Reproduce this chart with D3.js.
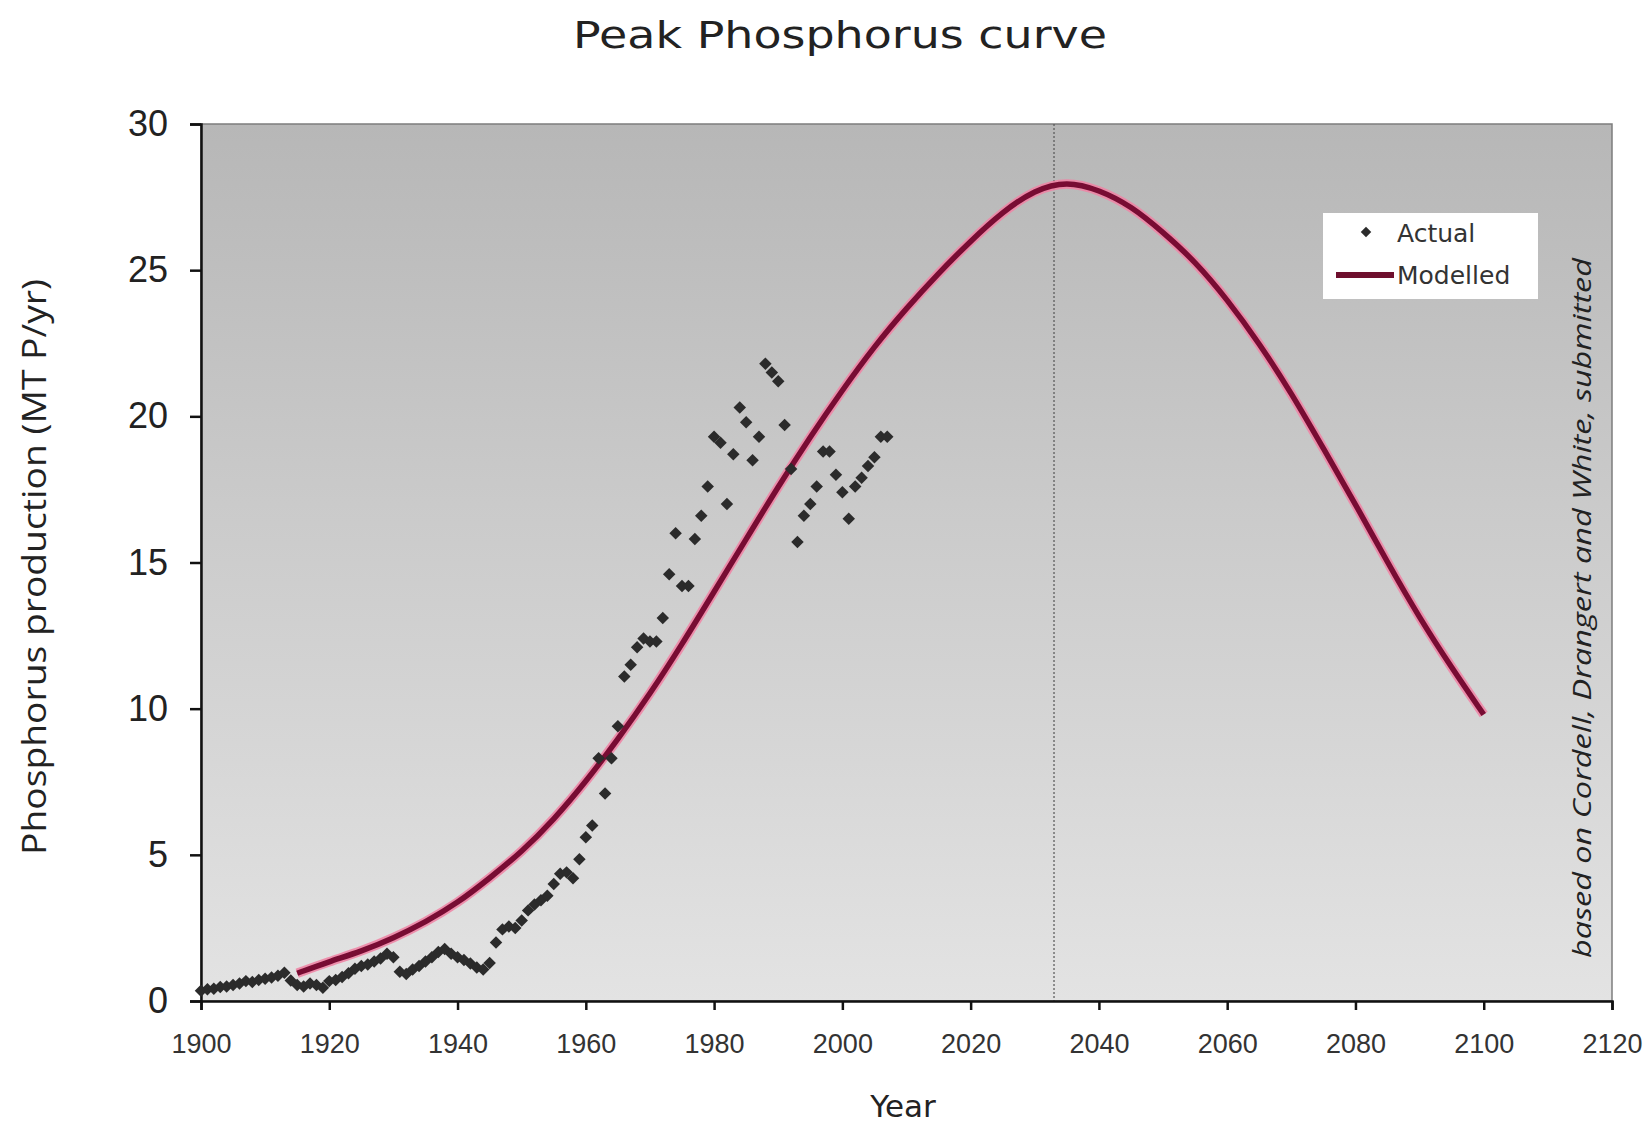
<!DOCTYPE html>
<html>
<head>
<meta charset="utf-8">
<script src="https://cdn.jsdelivr.net/npm/d3@7"></script>
<style>
  html, body { margin: 0; padding: 0; background: #ffffff; }
  svg { display: block; }
</style>
</head>
<body>
<svg id="chart" width="1650" height="1124"></svg>
<script>
// ---------------- data ----------------
const actualYears = [
  1900,1901,1902,1903,1904,1905,1906,1907,1908,1909,
  1910,1911,1912,1913,1914,1915,1916,1917,1918,1919,
  1920,1921,1922,1923,1924,1925,1926,1927,1928,1929,
  1930,1931,1932,1933,1934,1935,1936,1937,1938,1939,
  1940,1941,1942,1943,1944,1945,1946,1947,1948,1949,
  1950,1951,1952,1953,1954,1955,1956,1957,1958,1959,
  1960,1961,1962,1963,1964,1965,1966,1967,1968,1969,
  1970,1971,1972,1973,1974,1975,1976,1977,1978,1979,
  1980,1981,1982,1983,1984,1985,1986,1987,1988,1989,
  1990,1991,1992,1993,1994,1995,1996,1997,1998,1999,
  2000,2001,2002,2003,2004,2005,2006,2007
];
const actualValues = [
  0.35,0.40,0.42,0.48,0.50,0.55,0.60,0.68,0.65,0.72,
  0.76,0.80,0.86,0.97,0.70,0.55,0.50,0.60,0.55,0.45,
  0.68,0.72,0.82,0.95,1.10,1.20,1.25,1.35,1.45,1.62,
  1.50,1.00,0.92,1.08,1.20,1.35,1.50,1.68,1.78,1.62,
  1.50,1.40,1.28,1.15,1.08,1.30,2.00,2.45,2.55,2.50,
  2.75,3.10,3.30,3.45,3.60,4.00,4.35,4.40,4.20,4.85,
  5.60,6.00,8.30,7.10,8.30,9.40,11.10,11.50,12.10,12.40,
  12.30,12.30,13.10,14.60,16.00,14.20,14.20,15.80,16.60,17.60,
  19.30,19.10,17.00,18.70,20.30,19.80,18.50,19.30,21.80,21.50,
  21.20,19.70,18.20,15.70,16.60,17.00,17.60,18.80,18.80,18.00,
  17.40,16.50,17.60,17.90,18.30,18.60,19.30,19.30
];
const modelYears = [
  1915,1920,1925,1930,1935,1940,1945,1950,1955,1960,
  1965,1970,1975,1980,1985,1990,1995,2000,2005,2010,
  2015,2020,2025,2030,2035,2040,2045,2050,2055,2060,
  2065,2070,2075,2080,2085,2090,2095,2100
];
const modelValues = [
  0.95,1.35,1.70,2.15,2.70,3.35,4.20,5.10,6.20,7.50,
  8.95,10.50,12.20,14.00,15.80,17.60,19.30,20.90,22.40,23.70,
  24.90,26.00,27.00,27.75,28.05,27.75,27.20,26.30,25.30,24.00,
  22.50,20.80,18.90,17.00,15.00,13.10,11.40,9.80
];
const xTickValues = [1900,1920,1940,1960,1980,2000,2020,2040,2060,2080,2100,2120];
const yTickValues = [0,5,10,15,20,25,30];
const peakYear = 2033;
const seriesNames = ["Actual", "Modelled"];
const titleText = "Peak Phosphorus curve";
const xLabelText = "Year";
const yLabelText = "Phosphorus production (MT P/yr)";
const noteText = "based on Cordell, Drangert and White, submitted";

// ---------------- layout ----------------
const svg = d3.select("#chart");
const plot = { left: 201, right: 1612, top: 124, bottom: 1001 };

const x = d3.scaleLinear().domain([1900, 2120]).range([plot.left, plot.right]);
const y = d3.scaleLinear().domain([0, 30]).range([plot.bottom, plot.top]);

// background gradient
const defs = svg.append("defs");
const grad = defs.append("linearGradient")
  .attr("id", "bg").attr("x1", 0).attr("y1", 0).attr("x2", 0).attr("y2", 1);
grad.append("stop").attr("offset", "0%").attr("stop-color", "#b7b7b7");
grad.append("stop").attr("offset", "100%").attr("stop-color", "#e3e3e3");

svg.append("rect")
  .attr("x", plot.left).attr("y", plot.top)
  .attr("width", plot.right - plot.left).attr("height", plot.bottom - plot.top)
  .attr("fill", "url(#bg)")
  .attr("stroke", "#7d7d7d").attr("stroke-width", 1.5);

// vertical dotted peak line
svg.append("line")
  .attr("x1", x(peakYear)).attr("x2", x(peakYear))
  .attr("y1", plot.top).attr("y2", plot.bottom)
  .attr("stroke", "#555").attr("stroke-width", 1.2)
  .attr("stroke-dasharray", "2,2");

// axes
const yAxis = d3.axisLeft(y).tickValues(yTickValues).tickSize(11).tickPadding(22);
const yG = svg.append("g").attr("transform", `translate(${plot.left},0)`).call(yAxis);
yG.select(".domain").attr("stroke", "#111").attr("stroke-width", 2.5);
yG.selectAll(".tick line").attr("stroke", "#111").attr("stroke-width", 2.5);
yG.selectAll("text")
  .attr("font-family", "'Liberation Sans', Arial, sans-serif")
  .attr("font-size", 36).attr("fill", "#222");

const xAxis = d3.axisBottom(x).tickValues(xTickValues).tickFormat(d3.format("d")).tickSize(9).tickPadding(24);
const xG = svg.append("g").attr("transform", `translate(0,${plot.bottom})`).call(xAxis);
xG.select(".domain").attr("stroke", "#111").attr("stroke-width", 2.5);
xG.selectAll(".tick line").attr("stroke", "#111").attr("stroke-width", 2.5);
xG.selectAll("text")
  .attr("font-family", "'Liberation Sans', Arial, sans-serif")
  .attr("font-size", 27).attr("fill", "#333");

// modelled curve
const line = d3.line()
  .x((d, i) => x(modelYears[i]))
  .y(d => y(d))
  .curve(d3.curveBasis);

svg.append("path")
  .datum(modelValues)
  .attr("d", line)
  .attr("fill", "none")
  .attr("stroke", "#ee86a6")
  .attr("stroke-opacity", 0.9)
  .attr("stroke-width", 9.5)
  .attr("stroke-linejoin", "round");
svg.append("path")
  .datum(modelValues)
  .attr("d", line)
  .attr("fill", "none")
  .attr("stroke", "#780c33")
  .attr("stroke-width", 5.5)
  .attr("stroke-linejoin", "round");

// actual points (diamonds)
const diamond = d3.symbol().type(d3.symbolSquare).size(78);
svg.append("g").selectAll("path")
  .data(actualValues)
  .join("path")
  .attr("d", diamond)
  .attr("transform", (d, i) => `translate(${x(actualYears[i])},${y(d)}) rotate(45)`)
  .attr("fill", "#2b2b2b");

// legend
const lg = svg.append("g");
lg.append("rect")
  .attr("x", 1323).attr("y", 213).attr("width", 215).attr("height", 86)
  .attr("fill", "#ffffff");
lg.append("path")
  .attr("d", d3.symbol().type(d3.symbolSquare).size(55))
  .attr("transform", "translate(1366,232) rotate(45)")
  .attr("fill", "#2b2b2b");
lg.append("line")
  .attr("x1", 1336).attr("x2", 1394).attr("y1", 275).attr("y2", 275)
  .attr("stroke", "#6e0f2e").attr("stroke-width", 6);
lg.selectAll("text.leg")
  .data(seriesNames)
  .join("text")
  .attr("class", "leg")
  .attr("x", 1397)
  .attr("y", (d, i) => 242 + i * 42)
  .attr("font-family", "'DejaVu Sans', sans-serif")
  .attr("font-size", 25)
  .attr("fill", "#333")
  .text(d => d);

// title
svg.append("text")
  .attr("x", 840).attr("y", 48)
  .attr("text-anchor", "middle")
  .attr("font-family", "'DejaVu Sans', sans-serif")
  .attr("font-size", 38)
  .attr("textLength", 534)
  .attr("lengthAdjust", "spacingAndGlyphs")
  .attr("fill", "#222")
  .text(titleText);

// x label
svg.append("text")
  .attr("x", 903).attr("y", 1117)
  .attr("text-anchor", "middle")
  .attr("font-family", "'DejaVu Sans', sans-serif")
  .attr("font-size", 31)
  .attr("fill", "#222")
  .text(xLabelText);

// y label
svg.append("text")
  .attr("transform", "translate(46,567) rotate(-90)")
  .attr("text-anchor", "middle")
  .attr("font-family", "'Open Sans', 'Liberation Sans', sans-serif")
  .attr("font-size", 33)
  .attr("textLength", 576)
  .attr("lengthAdjust", "spacingAndGlyphs")
  .attr("fill", "#222")
  .text(yLabelText);

// note
svg.append("text")
  .attr("transform", "translate(1591,608) rotate(-90)")
  .attr("text-anchor", "middle")
  .attr("font-family", "'Open Sans', 'Liberation Sans', sans-serif")
  .attr("font-style", "italic")
  .attr("font-size", 25)
  .attr("textLength", 700)
  .attr("lengthAdjust", "spacingAndGlyphs")
  .attr("fill", "#222")
  .text(noteText);
</script>
</body>
</html>
